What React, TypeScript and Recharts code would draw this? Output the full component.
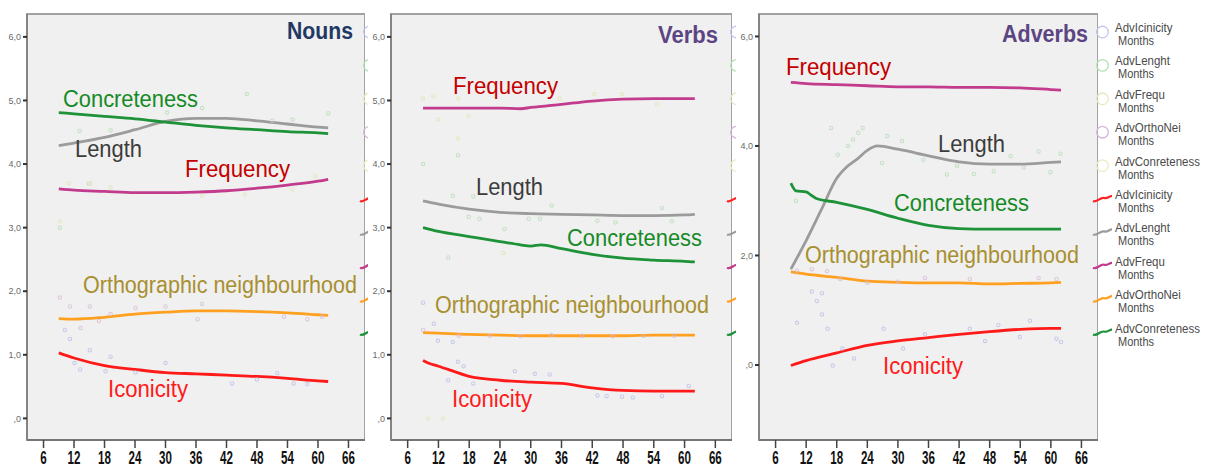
import React from 'react';
import { ComposedChart, Line, Scatter, XAxis, YAxis, ReferenceArea } from 'recharts';

// ---------- shared axes ----------
const X_TICKS = [6, 12, 18, 24, 30, 36, 42, 48, 54, 60, 66];
const Y_TICKS_NV = [0, 1, 2, 3, 4, 5, 6];
const Y_TICKS_ADV = [0, 2, 4, 6];
const MONTHS = [9, 12, 18, 24, 30, 36, 42, 48, 54, 60, 62];

// ---------- Nouns ----------
const nounsConcreteness = [4.81, 4.79, 4.75, 4.71, 4.66, 4.61, 4.57, 4.54, 4.51, 4.49, 4.48];
const nounsLength = [4.29, 4.33, 4.42, 4.54, 4.67, 4.72, 4.72, 4.68, 4.63, 4.58, 4.57];
const nounsFrequency = [3.61, 3.59, 3.57, 3.55, 3.55, 3.56, 3.58, 3.62, 3.67, 3.73, 3.76];
const nounsOrtho = [1.57, 1.56, 1.59, 1.64, 1.67, 1.69, 1.69, 1.68, 1.66, 1.63, 1.62];
const nounsIconicity = [1.03, 0.95, 0.83, 0.77, 0.72, 0.7, 0.68, 0.66, 0.63, 0.59, 0.58];

// ---------- Verbs ----------
const verbsFrequencyM = [9, 12, 18, 24, 28, 30, 36, 42, 48, 54, 60, 62];
const verbsFrequency = [4.88, 4.88, 4.88, 4.88, 4.87, 4.89, 4.94, 4.99, 5.02, 5.03, 5.03, 5.03];
const verbsLength = [3.42, 3.37, 3.29, 3.24, 3.22, 3.21, 3.2, 3.19, 3.19, 3.2, 3.21];
const verbsConcretenessM = [9, 12, 18, 24, 28, 30, 32, 36, 42, 48, 54, 60, 62];
const verbsConcreteness = [3.0, 2.94, 2.86, 2.78, 2.73, 2.71, 2.73, 2.67, 2.58, 2.52, 2.49, 2.47, 2.46];
const verbsOrtho = [1.35, 1.34, 1.32, 1.31, 1.3, 1.3, 1.3, 1.3, 1.31, 1.31, 1.31];
const verbsIconicityM = [9, 10, 12, 15, 18, 24, 30, 36, 42, 48, 54, 60, 62];
const verbsIconicity = [0.91, 0.87, 0.82, 0.74, 0.66, 0.6, 0.57, 0.55, 0.48, 0.44, 0.43, 0.43, 0.43];

// ---------- Adverbs ----------
const advFrequency = [5.16, 5.14, 5.12, 5.1, 5.08, 5.08, 5.07, 5.07, 5.06, 5.03, 5.02];
const advLengthM = [9, 12, 15, 18, 20, 22, 24, 26, 30, 36, 42, 48, 54, 60, 62];
const advLength = [1.75, 2.27, 2.84, 3.41, 3.62, 3.76, 3.92, 4.0, 3.94, 3.82, 3.71, 3.67, 3.67, 3.7, 3.71];
const advConcretenessM = [9, 10, 12, 13, 14, 18, 24, 30, 36, 42, 48, 54, 60, 62];
const advConcreteness = [3.32, 3.18, 3.16, 3.1, 3.04, 2.97, 2.84, 2.68, 2.55, 2.49, 2.48, 2.48, 2.48, 2.48];
const advOrtho = [1.7, 1.66, 1.6, 1.53, 1.51, 1.5, 1.5, 1.48, 1.49, 1.5, 1.51];
const advIconicity = [-0.01, 0.08, 0.22, 0.36, 0.44, 0.5, 0.56, 0.61, 0.65, 0.67, 0.67];

// ---------- observed points (faint) [month, value] ----------
const nounsIconDots: [number, number][] = [[12.1, 0.87], [13.2, 0.77], [15.1, 1.07], [19.2, 0.97], [18.2, 0.74], [30, 0.87], [24.1, 0.72], [43.1, 0.55], [48, 0.61], [55.2, 0.55], [57.9, 0.54], [52, 0.71], [10.2, 1.39], [11.2, 1.25]];
const nounsOrthoDots: [number, number][] = [[9.2, 1.9], [11.2, 1.76], [13.3, 1.42], [15.1, 1.76], [16.9, 1.53], [19.2, 1.64], [24.1, 1.74], [30, 1.76], [37.2, 1.8], [36.3, 1.56], [53.3, 1.6], [57.9, 1.56], [60.8, 1.6]];
const nounsLengthDots: [number, number][] = [[13.1, 4.52], [46, 5.1], [37.2, 4.88], [9.2, 3.0], [14.9, 3.69], [19.2, 4.53], [62, 4.8], [55, 4.7], [30.3, 4.81], [51, 4.68]];
const nounsFreqDots: [number, number][] = [[11, 3.7], [15.3, 3.7], [19.2, 3.63], [37.2, 3.5], [45.6, 3.52], [55, 3.6], [59.5, 3.81], [9.2, 3.1]];

const verbsIconDots: [number, number][] = [[9, 1.82], [11.1, 1.49], [11.9, 1.22], [13.9, 0.6], [14.8, 1.2], [15.8, 0.89], [16.9, 0.82], [18.8, 0.55], [26.9, 0.74], [30.8, 0.7], [33.7, 0.69], [43, 0.36], [44.8, 0.35], [47.8, 0.34], [49.9, 0.33], [55.6, 0.35], [60.8, 0.51]];
const verbsOrthoDots: [number, number][] = [[9, 1.39], [16, 1.3], [22, 1.3], [28, 1.29], [34, 1.31], [40, 1.3], [46, 1.29], [52, 1.3], [58, 1.3]];
const verbsLengthDots: [number, number][] = [[9, 4.0], [14.8, 3.5], [15.8, 4.14], [18.8, 3.49], [17.9, 3.17], [24.9, 2.98], [20, 3.14], [29.6, 3.14], [31.8, 3.14], [34.1, 3.35], [43, 3.11], [46.5, 3.08], [55.6, 3.31], [57.5, 3.1], [13.9, 2.53]];
const verbsFreqDots: [number, number][] = [[9, 5.03], [11, 5.07], [11.9, 4.7], [15.9, 5.03], [17.9, 4.76], [35.6, 5.03], [42.4, 5.1], [47.8, 5.1], [54.6, 4.94], [15.8, 4.4], [24.6, 2.6], [10, 0.0], [12.9, 0.0]];

const advLengthDots: [number, number][] = [[16.9, 4.33], [20.2, 4.0], [21.2, 4.12], [23.1, 4.33], [22.2, 4.24], [18.2, 3.84], [27.9, 4.18], [30.8, 4.09], [26.9, 3.69], [35, 3.75], [39.6, 3.48], [41.6, 3.64], [44.9, 3.49], [48.8, 3.54], [52.1, 3.81], [54.7, 3.6], [57.6, 3.9], [59.9, 3.52], [61.9, 3.86], [10, 3.0]];
const advIconDots: [number, number][] = [[10.2, 0.77], [13.1, 1.34], [14.1, 1.17], [15.1, 1.31], [15.1, 0.92], [16.2, 0.66], [27.2, 0.66], [17.2, -0.01], [21.4, 0.12], [19.1, 0.3], [31, 0.3], [35.3, 0.56], [44.1, 0.66], [47.1, 0.44], [49.7, 0.73], [55.9, 0.81], [61.1, 0.48], [62, 0.42], [53.9, 0.51]];
const advOrthoDots: [number, number][] = [[10.2, 1.72], [13.1, 1.75], [16.1, 1.71], [18.7, 1.57], [35.3, 1.59], [44.1, 1.57], [57.6, 1.59], [61.1, 1.57], [24, 1.5], [30, 1.52]];

// ---------- legend ----------
const legendNames = ['AdvIcinicity', 'AdvLenght', 'AdvFrequ', 'AdvOrthoNei', 'AdvConreteness'];
const legendSub = 'Months';

// ---------- colors ----------
const C = {
  conc: '#1d9238',
  len: '#9b9b9b',
  freq: '#c23b8c',
  ortho: '#ffa020',
  icon: '#ff1a1a',
};
const LABEL_C = {
  conc: '#168a26',
  len: '#3c3c3c',
  freq: '#c40000',
  ortho: '#a88f30',
  icon: '#ff1a1a',
};
const DOT_C = {
  icon: '#b8bce6',
  len: '#b4dcb4',
  freq: '#e2e2b4',
  ortho: '#d6b8d6',
};
const CIRCLE_C = ['#c0c4ec', '#b4e2b4', '#e8e8c0', '#d4b6d8', '#ececc4'];
const LINE_C = ['#ff2020', '#9b9b9b', '#c23b8c', '#ffa020', '#1d9238'];

const X_DOMAIN: [number, number] = [2.75, 69.25];
const NV_DOMAIN: [number, number] = [-0.34, 6.36];
const ADV_DOMAIN: [number, number] = [-1.37, 6.41];

const FONT = 'Liberation Sans, Arial, Helvetica, sans-serif';

const pts = (m: number[], v: number[]) => m.map((x, i) => ({ m: x, v: v[i] }));
const dotPts = (d: [number, number][]) => d.map(([m, v]) => ({ m, v }));

type LineSpec = { data: { m: number; v: number }[]; color: string };
type DotSpec = { data: { m: number; v: number }[]; color: string };

const fmtY = (v: number) => (v === 0 ? ',0' : v.toFixed(1).replace('.', ','));

const XTick = (props: any) => {
  const { x, y, payload } = props;
  return (
    <g transform={`translate(${x},${y})`}>
      <text
        x={0}
        y={0}
        textAnchor="middle"
        transform="translate(0,13.5) scale(0.86,1.42)"
        fontSize={13.5}
        fontWeight="bold"
        fill="#111"
        fontFamily={FONT}
      >
        {payload.value}
      </text>
    </g>
  );
};

const DotShape = (props: any) => {
  const { cx, cy, fill } = props;
  if (cx == null || cy == null) return null;
  return <circle cx={cx} cy={cy} r={1.7} fill="none" stroke={fill} strokeWidth={1.1} opacity={0.7} />;
};

function Panel(props: {
  left: number;
  width: number;
  yWidth: number;
  yDomain: [number, number];
  yTicks: number[];
  lines: LineSpec[];
  dots: DotSpec[];
}) {
  const { left, width, yWidth, yDomain, yTicks, lines, dots } = props;
  return (
    <div style={{ position: 'absolute', left, top: 0 }}>
      <ComposedChart width={width} height={467} margin={{ top: 14, right: 0, bottom: 0, left: 0 }}>
        <XAxis
          type="number"
          dataKey="m"
          domain={X_DOMAIN}
          ticks={X_TICKS}
          allowDataOverflow
          interval={0}
          height={27}
          tickSize={8}
          tick={<XTick />}
          axisLine={{ stroke: '#666', strokeWidth: 1.5 }}
          tickLine={{ stroke: '#444', strokeWidth: 1.5 }}
        />
        <YAxis
          type="number"
          domain={yDomain}
          ticks={yTicks}
          allowDataOverflow
          interval={0}
          width={yWidth}
          tickSize={4}
          tickFormatter={fmtY}
          tick={{ fontSize: 9, fill: '#6a6a6a', fontFamily: FONT }}
          axisLine={{ stroke: '#7a7a7a', strokeWidth: 1.5 }}
          tickLine={{ stroke: '#333', strokeWidth: 2 }}
        />
        <ReferenceArea
          x1={X_DOMAIN[0]}
          x2={X_DOMAIN[1]}
          y1={yDomain[0]}
          y2={yDomain[1]}
          fill="#f0f0f0"
          fillOpacity={1}
          stroke="#a2a2a2"
          strokeWidth={2}
          ifOverflow="visible"
        />
        {dots.map((d, i) => (
          <Scatter key={'d' + i} data={d.data} dataKey="v" fill={d.color} shape={<DotShape />} isAnimationActive={false} />
        ))}
        {lines.map((l, i) => (
          <Line
            key={'l' + i}
            data={l.data}
            dataKey="v"
            type="monotone"
            stroke={l.color}
            strokeWidth={2.8}
            dot={false}
            activeDot={false}
            isAnimationActive={false}
          />
        ))}
      </ComposedChart>
    </div>
  );
}

// annotation text (label, color key, x, baseline)
type Ann = { t: string; k: keyof typeof LABEL_C; x: number; y: number };
const ANN_WIDTH: Record<string, number> = {
  Concreteness: 135,
  Length: 67,
  Frequency: 105,
  'Orthographic neighbourhood': 274,
  Iconicity: 80,
};
const annotations: Ann[] = [
  { t: 'Concreteness', k: 'conc', x: 63, y: 107 },
  { t: 'Length', k: 'len', x: 75, y: 157 },
  { t: 'Frequency', k: 'freq', x: 185, y: 177 },
  { t: 'Orthographic neighbourhood', k: 'ortho', x: 83, y: 293 },
  { t: 'Iconicity', k: 'icon', x: 108, y: 397 },
  { t: 'Frequency', k: 'freq', x: 453, y: 94 },
  { t: 'Length', k: 'len', x: 476, y: 195 },
  { t: 'Concreteness', k: 'conc', x: 567, y: 246 },
  { t: 'Orthographic neighbourhood', k: 'ortho', x: 435, y: 313 },
  { t: 'Iconicity', k: 'icon', x: 452, y: 407 },
  { t: 'Frequency', k: 'freq', x: 786, y: 75 },
  { t: 'Length', k: 'len', x: 938, y: 152 },
  { t: 'Concreteness', k: 'conc', x: 894, y: 211 },
  { t: 'Orthographic neighbourhood', k: 'ortho', x: 805, y: 263 },
  { t: 'Iconicity', k: 'icon', x: 883, y: 374 },
];
const titles = [
  { t: 'Nouns', x: 287, y: 39, w: 66, c: '#1f3864' },
  { t: 'Verbs', x: 658, y: 43, w: 60, c: '#5b4582' },
  { t: 'Adverbs', x: 1002, y: 42, w: 86, c: '#5b4582' },
];

const LEG_Y0 = 32;
const LEG_STEP = 33.4;

function LegendMarks({ dx }: { dx: number }) {
  const items: React.ReactNode[] = [];
  for (let i = 0; i < 10; i++) {
    const y = LEG_Y0 + i * LEG_STEP;
    if (i < 5) {
      items.push(<circle key={'c' + i} cx={1102.5 + dx} cy={y} r={5.8} fill="none" stroke={CIRCLE_C[i]} strokeWidth={1.3} />);
    } else {
      const x0 = 1093 + dx;
      items.push(
        <path
          key={'p' + i}
          d={`M${x0},${y + 2} C${x0 + 4},${y + 4} ${x0 + 7},${y - 2} ${x0 + 11},${y - 1} S${x0 + 16},${y - 3} ${x0 + 19},${y - 3}`}
          fill="none"
          stroke={LINE_C[i - 5]}
          strokeWidth={2.2}
        />
      );
    }
  }
  return <g>{items}</g>;
}

export default function App() {
  const nounsLines: LineSpec[] = [
    { data: pts(MONTHS, nounsFrequency), color: C.freq },
    { data: pts(MONTHS, nounsOrtho), color: C.ortho },
    { data: pts(MONTHS, nounsIconicity), color: C.icon },
    { data: pts(MONTHS, nounsLength), color: C.len },
    { data: pts(MONTHS, nounsConcreteness), color: C.conc },
  ];
  const nounsDots: DotSpec[] = [
    { data: dotPts(nounsIconDots), color: DOT_C.icon },
    { data: dotPts(nounsOrthoDots), color: DOT_C.ortho },
    { data: dotPts(nounsLengthDots), color: DOT_C.len },
    { data: dotPts(nounsFreqDots), color: DOT_C.freq },
  ];
  const verbsLines: LineSpec[] = [
    { data: pts(verbsFrequencyM, verbsFrequency), color: C.freq },
    { data: pts(MONTHS, verbsOrtho), color: C.ortho },
    { data: pts(verbsIconicityM, verbsIconicity), color: C.icon },
    { data: pts(MONTHS, verbsLength), color: C.len },
    { data: pts(verbsConcretenessM, verbsConcreteness), color: C.conc },
  ];
  const verbsDots: DotSpec[] = [
    { data: dotPts(verbsIconDots), color: DOT_C.icon },
    { data: dotPts(verbsOrthoDots), color: DOT_C.ortho },
    { data: dotPts(verbsLengthDots), color: DOT_C.len },
    { data: dotPts(verbsFreqDots), color: DOT_C.freq },
  ];
  const advLines: LineSpec[] = [
    { data: pts(MONTHS, advFrequency), color: C.freq },
    { data: pts(MONTHS, advOrtho), color: C.ortho },
    { data: pts(MONTHS, advIconicity), color: C.icon },
    { data: pts(advLengthM, advLength), color: C.len },
    { data: pts(advConcretenessM, advConcreteness), color: C.conc },
  ];
  const advDots: DotSpec[] = [
    { data: dotPts(advIconDots), color: DOT_C.icon },
    { data: dotPts(advOrthoDots), color: DOT_C.ortho },
    { data: dotPts(advLengthDots), color: DOT_C.len },
  ];

  return (
    <div style={{ position: 'absolute', left: 0, top: 0, width: 1209, height: 467, background: '#fff', overflow: 'hidden' }}>
      <Panel left={0} width={365} yWidth={27} yDomain={NV_DOMAIN} yTicks={Y_TICKS_NV} lines={nounsLines} dots={nounsDots} />
      <Panel left={365} width={367} yWidth={26} yDomain={NV_DOMAIN} yTicks={Y_TICKS_NV} lines={verbsLines} dots={verbsDots} />
      <Panel left={732} width={366} yWidth={27} yDomain={ADV_DOMAIN} yTicks={Y_TICKS_ADV} lines={advLines} dots={advDots} />
      <svg width={1209} height={467} style={{ position: 'absolute', left: 0, top: 0, pointerEvents: 'none' }}>
        <defs>
          <clipPath id="clip1">
            <rect x={355} y={0} width={13} height={467} />
          </clipPath>
          <clipPath id="clip2">
            <rect x={722} y={0} width={14} height={467} />
          </clipPath>
        </defs>
        <g clipPath="url(#clip1)">
          <LegendMarks dx={-733} />
        </g>
        <g clipPath="url(#clip2)">
          <LegendMarks dx={-366} />
        </g>
        <LegendMarks dx={0} />
        {[0, 1].map((grp) =>
          legendNames.map((n, i) => {
            const idx = grp * 5 + i;
            const y = LEG_Y0 + idx * LEG_STEP;
            return (
              <g key={'lt' + idx} fontFamily={FONT} fill="#4a4a4a">
                <text transform={`translate(1115,${y}) scale(1,1.1)`} fontSize={11.5}>
                  {n}
                </text>
                <text transform={`translate(1118,${y + 13}) scale(1,1.1)`} fontSize={11}>
                  {legendSub}
                </text>
              </g>
            );
          })
        )}
        {annotations.map((a, i) => (
          <text
            key={'a' + i}
            transform={`translate(${a.x},${a.y}) scale(1,1.1)`}
            fontSize={22}
            fontFamily={FONT}
            fill={LABEL_C[a.k]}
            textLength={ANN_WIDTH[a.t]}
            lengthAdjust="spacingAndGlyphs"
          >
            {a.t}
          </text>
        ))}
        {titles.map((t, i) => (
          <text
            key={'t' + i}
            transform={`translate(${t.x},${t.y}) scale(1,1.15)`}
            fontSize={21.5}
            fontWeight="bold"
            fontFamily={FONT}
            fill={t.c}
            textLength={t.w}
            lengthAdjust="spacingAndGlyphs"
          >
            {t.t}
          </text>
        ))}
      </svg>
    </div>
  );
}
